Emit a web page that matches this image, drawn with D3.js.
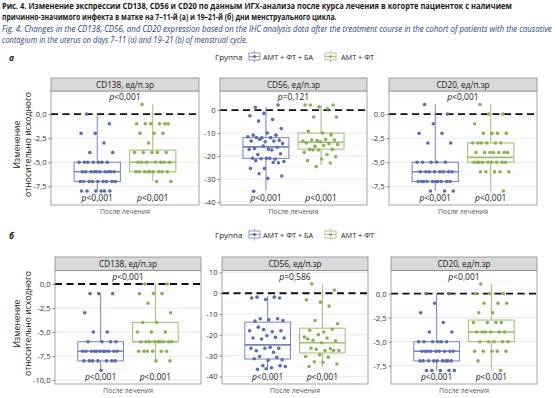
<!DOCTYPE html>
<html><head><meta charset="utf-8">
<script src="https://cdn.jsdelivr.net/npm/d3@7"></script>
<style>body{margin:0;background:#fff} svg{display:block} text{font-family:"Open Sans",sans-serif}</style>
</head><body><svg id="c" width="555" height="398"></svg>
<script>
// ---------- DATA ----------
const titleRu = ["Рис. 4. Изменение экспрессии CD138, CD56 и CD20 по данным ИГХ-анализа после курса лечения в когорте пациенток с наличием",
  "причинно-значимого инфекта в матке на 7–11-й (а) и 19–21-й (б) дни менструального цикла."];
const titleEn = ["Fig. 4. Changes in the CD138, CD56, and CD20 expression based on the IHC analysis data after the treatment course in the cohort of patients with the causative",
  "contagium in the uterus on days 7–11 (a) and 19–21 (b) of menstrual cycle."];
const panelNames = ["CD138, ед/п.зр", "CD56, ед/п.зр", "CD20, ед/п.зр"];
const groups = ["АМТ + ФТ + БА", "АМТ + ФТ"];
const legendTitle = "Группа";
const xCategory = "После лечения";
const yTitle = ["Изменение", "относительно исходного"];
const rowLabels = ["а", "б"];

const ticksA = [[0, -2.5, -5, -7.5], [0, -10, -20, -30, -40], [0, -2.5, -5, -7.5]];
const ticksB = [[0, -2.5, -5, -7.5, -10], [10, 0, -10, -20, -30, -40], [0, -2.5, -5, -7.5]];

const pTopA = ["p<0,001", "p=0,121", "p<0,001"];
const pTopB = ["p<0,001", "p=0,586", "p<0,001"];
const pBottomA = [["p<0,001","p<0,001"],["p<0,001","p<0,001"],["p<0,001","p<0,001"]];
const pBottomB = [["p<0,001","p<0,001"],["p<0,001","p<0,001"],["p<0,001","p<0,001"]];

// points (change from baseline)
const a_CD138_g1 = [0,-1,-2,-2,-3,-4,-4,-5,-5,-5,-5,-5,-5,-5,-6,-6,-6,-6,-6,-6,-6,-6,-6,-6,-7,-7,-7,-7,-7,-7,-7,-7,-7,-8,-8,-8,-8,-8,-8];
const a_CD138_g2 = [1,-1,-1,-1,-1,-1,-1,-2,-2,-2,-3,-4,-4,-4,-4,-4,-5,-5,-5,-5,-5,-5,-5,-6,-6,-6,-6,-6,-6,-6,-6,-6,-7,-7];
const a_CD56_g1 = [1.2,2.2,-1.45,-2.5,-4.1,-4.8,-8,-10,-10.9,-10.9,-12.1,-11.6,-12,-12,-13.1,-13.8,-13.5,-13.5,-12.8,-14.5,-17,-16.7,-16.2,-15.6,-17.1,-17.4,-19.3,-19,-21,-21,-21.4,-21.2,-22.4,-21,-22,-22.9,-25.4,-25.4,-22.8,-27.7,-28.7,-29.7,-35.3];
const a_CD56_g2 = [2.2,2.2,1.4,2.2,0.6,-3,-3,-10,-9.2,-10.8,-13.3,-13.5,-12.8,-13,-13,-13.8,-14.3,-14.6,-15.8,-15,-15.4,-17.1,-17.1,-17.4,-18.4,-19.3,-17.4,-20.3,-21.3,-22,-23,-24.6];
const a_CD20_g1 = [1,0,-1,-2,-2,-3,-3,-5,-5,-5,-5,-5,-6,-6,-6,-6,-6,-6,-6,-6,-7,-7,-7,-7,-7,-7,-7,-7,-7,-7,-8,-8,-8];
const a_CD20_g2 = [1,0,0,-1,-2,-2,-2,-2,-3,-3,-3,-3,-3,-3,-4,-4,-4,-4,-4,-4,-4,-5,-5,-5,-5,-5,-5,-5,-5,-5,-6,-6,-6,-6,-6,-8];
const b_CD138_g1 = [-1,-1,-1,-3,-5,-5,-6,-6,-6,-6,-7,-7,-7,-7,-7,-7,-7,-7,-7,-7,-7,-8,-8,-8,-8,-8,-8,-8,-9];
const b_CD138_g2 = [0,0,-1,-1,-1,-2,-3,-4,-4,-5,-5,-5,-6,-6,-6,-6,-6,-6,-6,-6,-6,-7,-7,-7,-7,-7,-7,-8,-8];
const b_CD56_g1 = [-1.9,-2.3,-3,-2.3,-1.9,-12.3,-13.1,-12.8,-13.4,-12.3,-17.5,-18,-18.5,-16.3,-18,-20.4,-21.5,-21.2,-22,-21.5,-26,-27.6,-26.4,-26.4,-26.4,-28.4,-30.4,-32,-32.2,-31.5,-30.8,-34.8,-35.2,-35.8,-36.5,-34.8,-36.3];
const b_CD56_g2 = [4.5,1.5,-4.3,-3.2,-6.2,-13.1,-14.7,-18.6,-17.8,-17.3,-19.9,-21,-21.5,-22.6,-22.9,-23.8,-22,-26.6,-26.9,-27.5,-27.5,-26.4,-27.5,-29.6,-30.4,-30.8,-32.9,-34,-33.2,-35.2];
const b_CD20_g1 = [0,0,-1,-2,-3,-4,-4,-5,-5,-5,-5,-5,-5,-6,-6,-6,-6,-6,-6,-6,-6,-6,-7,-7,-7,-7,-7,-7,-7,-7,-7,-8,-8,-8,-8,-8];
const b_CD20_g2 = [1,0,0,0,-1,-1,-1,-2,-2,-3,-3,-3,-3,-4,-4,-4,-4,-4,-4,-5,-5,-5,-5,-5,-6,-6,-6,-6,-6,-7,-8];

// box stats: [lower whisker, Q1, median, Q3, upper whisker]
const a_box_CD138 = [[-8,-7,-6,-5,0], [-7,-6,-5,-3.75,1]];
const a_box_CD56  = [[-35,-21,-16,-12,1.5], [-24,-17,-14,-10,2.2]];
const a_box_CD20  = [[-8,-7,-6,-5,1], [-8,-5,-4.5,-3,1]];
const b_box_CD138 = [[-9,-8,-7,-6,-1], [-8,-6,-6,-4,0]];
const b_box_CD56  = [[-36.7,-31.6,-24.8,-13.9,-1.4], [-35.6,-28.7,-23.8,-16.8,4.5]];
const b_box_CD20  = [[-8,-7,-6,-5,0], [-8,-5,-4,-2.75,1]];

// ---------- STYLE / LAYOUT ----------
const ptCol = ["#5a6cb3", "#8bb053"];
const boxCol = ["#7383c3", "#9dbd6f"];
const svg = d3.select("#c");
const loc = d3.formatLocale({decimal: ",", thousands: " ", grouping: [3], currency: ["", ""], minus: "-"});
const f1 = loc.format(".1f"), f0 = loc.format("d");

const rows = [
  {label: rowLabels[0], legendY: 60, stripTop: 78, top: 91, bottom: 205,
   xs: [[51,199],[220,367],[389,537]],
   domains: [[-9.45,2.4],[-41.3,8.3],[-9.45,2.4]], ticks: ticksA, fmts: [f1,f0,f1],
   pts: [[a_CD138_g1,a_CD138_g2],[a_CD56_g1,a_CD56_g2],[a_CD20_g1,a_CD20_g2]],
   boxes: [a_box_CD138,a_box_CD56,a_box_CD20], pTop: pTopA, pBot: pBottomA},
  {label: rowLabels[1], legendY: 238, stripTop: 257, top: 270.5, bottom: 384,
   xs: [[55,201],[222,368],[391,537]],
   domains: [[-10.4,1.4],[-43.6,10.9],[-9.4,2.4]], ticks: ticksB, fmts: [f1,f0,f1],
   pts: [[b_CD138_g1,b_CD138_g2],[b_CD56_g1,b_CD56_g2],[b_CD20_g1,b_CD20_g2]],
   boxes: [b_box_CD138,b_box_CD56,b_box_CD20], pTop: pTopB, pBot: pBottomB}
];

// title (condensed via horizontal scale to fit the measured line widths)
const tl = [
  {t: titleRu[0], y: 9, w: 510, bold: true, it: false, c: "#1a1a1a"},
  {t: titleRu[1], y: 20, w: 335, bold: true, it: false, c: "#1a1a1a"},
  {t: titleEn[0], y: 32, w: 550, bold: false, it: true, c: "#26447c"},
  {t: titleEn[1], y: 43, w: 246, bold: false, it: true, c: "#26447c"}];
tl.forEach(d => {
  const t = svg.append("text").attr("x", 0).attr("y", 0).text(d.t)
    .attr("font-size", 8.6).attr("font-weight", d.bold ? 700 : 400)
    .attr("font-style", d.it ? "italic" : "normal").attr("fill", d.c);
  const nat = t.node().getComputedTextLength();
  t.attr("transform", `translate(2,${d.y}) scale(${d.w / nat},1)`);
});

function pText(g, x, y, s) {
  const t = g.append("text").attr("x", x).attr("y", y).attr("text-anchor", "middle")
    .attr("font-size", 8.5).attr("fill", "#1a1a1a");
  t.append("tspan").attr("font-style", "italic").text(s[0]);
  t.append("tspan").text(s.slice(1));
}

function jit(i) { return ((i * 0.6180339887 + 0.21) % 1) - 0.5; }

rows.forEach(row => {
  // row label
  svg.append("text").attr("x", 9).attr("y", row.legendY + 1).text(row.label)
    .attr("font-size", 8.5).attr("font-weight", 700).attr("font-style", "italic").attr("fill", "#1a1a1a");
  // legend
  const lg = svg.append("g");
  lg.append("text").attr("x", 215).attr("y", row.legendY).text(legendTitle)
    .attr("font-size", 8).attr("fill", "#1a1a1a");
  const keyX = [249, 325], txtX = [263, 341];
  groups.forEach((gname, k) => {
    const kx = keyX[k], ky = row.legendY - 8.5;
    lg.append("line").attr("x1", kx + 5.5).attr("x2", kx + 5.5).attr("y1", ky - 1).attr("y2", ky + 11)
      .attr("stroke", boxCol[k]).attr("stroke-width", 0.8);
    lg.append("rect").attr("x", kx).attr("y", ky + 1.5).attr("width", 11).attr("height", 7)
      .attr("fill", "#fff").attr("stroke", boxCol[k]).attr("stroke-width", 0.8);
    lg.append("line").attr("x1", kx).attr("x2", kx + 11).attr("y1", ky + 5).attr("y2", ky + 5)
      .attr("stroke", boxCol[k]).attr("stroke-width", 0.8);
    lg.append("circle").attr("cx", kx + 5.5).attr("cy", ky + 5).attr("r", 1.6).attr("fill", ptCol[k]);
    lg.append("text").attr("x", txtX[k]).attr("y", row.legendY).text(gname)
      .attr("font-size", 7.3).attr("fill", "#1a1a1a");
  });
  // y axis title
  const yc = (row.stripTop + row.bottom) / 2 + 3;
  [17, 27.5].forEach((xx, k) => svg.append("text")
    .attr("transform", `translate(${xx + 3},${yc}) rotate(-90)`).attr("text-anchor", "middle")
    .attr("font-size", 8.6).attr("fill", "#1a1a1a").text(yTitle[k]));

  row.xs.forEach((xr, p) => {
    const g = svg.append("g");
    const y = d3.scaleLinear().domain(row.domains[p]).range([row.bottom, row.top]);
    const x = d3.scaleLinear().domain([0.4, 1.6]).range(xr);
    const centers = [1 - 0.225, 1 + 0.225];
    const bw = x(1.1875) - x(1);
    // panel bg
    g.append("rect").attr("x", xr[0]).attr("y", row.top).attr("width", xr[1] - xr[0])
      .attr("height", row.bottom - row.top).attr("fill", "#fff");
    // grid
    const tk = row.ticks[p];
    const step = Math.abs(tk[1] - tk[0]);
    const minors = [];
    for (let v = tk[0] + step / 2; v < row.domains[p][1]; v += step) minors.push(v);
    for (let v = tk[0] - step / 2; v > row.domains[p][0]; v -= step) minors.push(v);
    g.selectAll(null).data(minors).join("line").attr("x1", xr[0]).attr("x2", xr[1])
      .attr("y1", d => y(d)).attr("y2", d => y(d)).attr("stroke", "#f2f2f2").attr("stroke-width", 0.6);
    g.selectAll(null).data(tk).join("line").attr("x1", xr[0]).attr("x2", xr[1])
      .attr("y1", d => y(d)).attr("y2", d => y(d)).attr("stroke", "#e6e6e6").attr("stroke-width", 0.8);
    // y axis
    const ax = g.append("g").attr("transform", `translate(${xr[0]},0)`)
      .call(d3.axisLeft(y).tickValues(tk).tickFormat(row.fmts[p]).tickSize(2.5).tickPadding(2));
    ax.select(".domain").remove();
    ax.selectAll(".tick line").attr("stroke", "#555").attr("stroke-width", 0.7);
    ax.selectAll(".tick text").attr("font-size", 7.6).attr("fill", "#333").attr("font-family", '"Open Sans",sans-serif');
    // dashed zero line
    g.append("line").attr("x1", xr[0]).attr("x2", xr[1]).attr("y1", y(0)).attr("y2", y(0))
      .attr("stroke", "#111").attr("stroke-width", 1.9).attr("stroke-dasharray", "7,4.5");
    // boxes
    row.boxes[p].forEach((b, k) => {
      const cx = x(centers[k]);
      const col = boxCol[k];
      g.append("line").attr("x1", cx).attr("x2", cx).attr("y1", y(b[4])).attr("y2", y(b[3]))
        .attr("stroke", col).attr("stroke-width", 1);
      g.append("line").attr("x1", cx).attr("x2", cx).attr("y1", y(b[1])).attr("y2", y(b[0]))
        .attr("stroke", col).attr("stroke-width", 1);
      g.append("rect").attr("x", cx - bw).attr("y", y(b[3])).attr("width", 2 * bw)
        .attr("height", y(b[1]) - y(b[3])).attr("fill", "none").attr("stroke", col).attr("stroke-width", 1);
      g.append("line").attr("x1", cx - bw).attr("x2", cx + bw).attr("y1", y(b[2])).attr("y2", y(b[2]))
        .attr("stroke", col).attr("stroke-width", 1.6);
    });
    // points
    row.pts[p].forEach((arr, k) => {
      const cx = centers[k];
      g.selectAll(null).data(arr).join("circle")
        .attr("cx", (d, i) => x(cx + jit(i) * 0.3))
        .attr("cy", d => y(d)).attr("r", 1.8).attr("fill", ptCol[k]);
    });
    // border
    g.append("rect").attr("x", xr[0]).attr("y", row.top).attr("width", xr[1] - xr[0])
      .attr("height", row.bottom - row.top).attr("fill", "none").attr("stroke", "#8c8c8c").attr("stroke-width", 0.8);
    // strip
    g.append("rect").attr("x", xr[0]).attr("y", row.stripTop).attr("width", xr[1] - xr[0])
      .attr("height", row.top - row.stripTop).attr("fill", "#d9d9d9").attr("stroke", "#8c8c8c").attr("stroke-width", 0.8);
    g.append("text").attr("x", (xr[0] + xr[1]) / 2).attr("y", row.top - 3.3).attr("text-anchor", "middle")
      .attr("font-size", 8.2).attr("fill", "#1a1a1a").text(panelNames[p]);
    // p labels
    pText(g, (xr[0] + xr[1]) / 2, row.top + 9, row.pTop[p]);
    row.pBot[p].forEach((s, k) => pText(g, x(centers[k]), row.bottom - 4, s));
    // x label
    g.append("text").attr("x", (xr[0] + xr[1]) / 2).attr("y", row.bottom + 8.5).attr("text-anchor", "middle")
      .attr("font-size", 6.8).attr("fill", "#555").text(xCategory);
  });
});
</script></body></html>
